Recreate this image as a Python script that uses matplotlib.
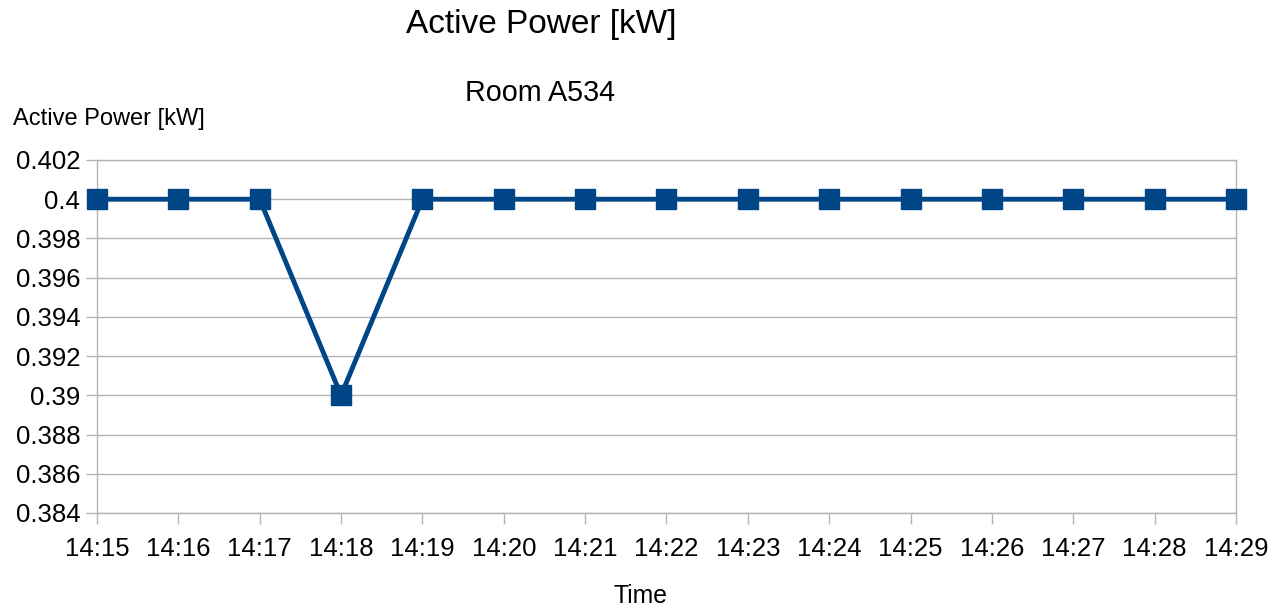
import matplotlib
matplotlib.use("Agg")
import matplotlib.pyplot as plt

times = ["14:15", "14:16", "14:17", "14:18", "14:19", "14:20", "14:21", "14:22",
         "14:23", "14:24", "14:25", "14:26", "14:27", "14:28", "14:29"]
power = [0.4, 0.4, 0.4, 0.39, 0.4, 0.4, 0.4, 0.4, 0.4, 0.4, 0.4, 0.4, 0.4, 0.4, 0.4]
yticks = [0.384, 0.386, 0.388, 0.39, 0.392, 0.394, 0.396, 0.398, 0.4, 0.402]
ytick_labels = ["0.384", "0.386", "0.388", "0.39", "0.392", "0.394", "0.396", "0.398", "0.4", "0.402"]

plt.rcParams['font.family'] = ['Liberation Sans', 'DejaVu Sans']

fig = plt.figure(figsize=(12.8, 6.11), dpi=100)
ax = fig.add_axes([97/1280, 1-513/611, (1236-97)/1280, (513-160)/611])

x = list(range(len(times)))
ax.plot(x, power, color="#004586", linewidth=3.5, marker="s", markersize=14.5,
        markerfacecolor="#004586", markeredgecolor="#004586", zorder=3, clip_on=False)

ax.set_xlim(0, len(times)-1)
ax.set_ylim(0.384, 0.402)
ax.set_xticks(x)
ax.set_xticklabels(times, fontsize=18.5)
ax.set_yticks(yticks)
ax.set_yticklabels(ytick_labels, fontsize=18.5)
ax.grid(axis="y", color="#b3b3b3", linewidth=1)
ax.set_axisbelow(True)
for s in ax.spines.values():
    s.set_color("#b3b3b3")
    s.set_linewidth(1)
ax.tick_params(axis="both", colors="#b3b3b3", labelcolor="black", length=8, width=1)
ax.tick_params(axis="x", pad=9)
ax.tick_params(axis="y", pad=4)

fig.text(541/1280, 1-24/611, "Active Power [kW]", fontsize=24, ha="center", va="center")
fig.text(540/1280, 1-93/611, "Room A534", fontsize=20.7, ha="center", va="center")
fig.text(13/1280, 1-119/611, "Active Power [kW]", fontsize=17, ha="left", va="center")
fig.text(641/1280, 1-596/611, "Time", fontsize=17.8, ha="center", va="center")

fig.savefig("out.png", dpi=100)
